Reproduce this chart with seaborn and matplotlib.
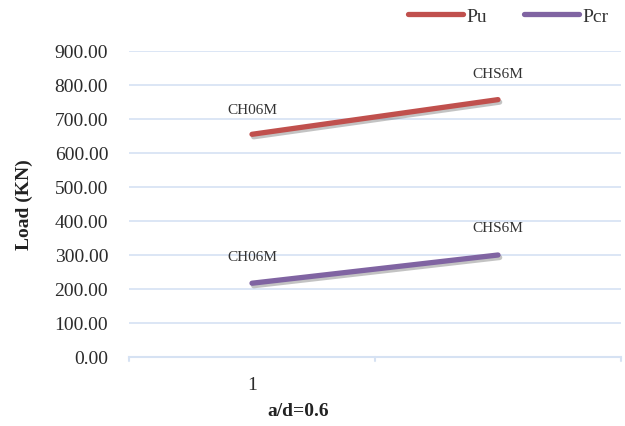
import matplotlib
matplotlib.use("Agg")
import matplotlib.pyplot as plt
import matplotlib.patheffects as pe
from matplotlib.lines import Line2D
import seaborn as sns
import pandas as pd

# Data
categories = ["1", ""]
specimens = ["CH06M", "CHS6M"]
pu_values = [655.0, 757.0]
pcr_values = [217.0, 300.0]
series_names = ["Pu", "Pcr"]
yticks = [0, 100, 200, 300, 400, 500, 600, 700, 800, 900]

sns.set_theme(style="white")
plt.rcParams['font.family'] = ['Liberation Serif', 'DejaVu Serif']

df = pd.DataFrame({
    "pos": [0, 1, 0, 1],
    "load": pu_values + pcr_values,
    "series": [series_names[0]] * 2 + [series_names[1]] * 2,
    "label": specimens + specimens,
})

colors = {"Pu": "#C0504D", "Pcr": "#8064A2"}
grid_c = "#D6E2F3"

fig = plt.figure(figsize=(6.25, 4.27), dpi=100)
ax = fig.add_axes([129 / 625, 1 - 358 / 427, (621 - 129) / 625, (358 - 52) / 427])

sns.lineplot(data=df, x="pos", y="load", hue="series", palette=colors,
             linewidth=3.8, ax=ax, legend=False, sort=False)
for line in ax.lines:
    line.set_solid_capstyle("round")
    line.set_path_effects([pe.SimpleLineShadow(offset=(1.2, -1.8), alpha=0.35, shadow_color="#555555"),
                           pe.Normal()])

ax.set_xlim(-0.5, 1.5)
ax.set_ylim(0, 900)
ax.set_yticks(yticks)
ax.set_yticklabels([f"{v:.2f}" for v in yticks], fontsize=14, color="#2b2b2b")
ax.set_xticks([0, 1])
ax.set_xticklabels(categories, fontsize=14, color="#2b2b2b")
ax.tick_params(axis="x", length=0, pad=14)
ax.tick_params(axis="y", length=0, pad=15)

# grid
for y in yticks[1:]:
    ax.axhline(y, color=grid_c, lw=1.2, zorder=0)
for s in ["top", "right", "left"]:
    ax.spines[s].set_visible(False)
ax.spines["bottom"].set_color(grid_c)
ax.spines["bottom"].set_linewidth(1.5)
# category divider ticks
for xv in [-0.5, 0.5, 1.5]:
    ax.plot([xv, xv], [0, -12], color=grid_c, lw=1.5, clip_on=False)

# annotations
offsets = {"Pu": [(0, 18), (0, 19)], "Pcr": [(0, 19), (0, 20)]}
for s, vals in [("Pu", pu_values), ("Pcr", pcr_values)]:
    for i, (v, lab) in enumerate(zip(vals, specimens)):
        ax.annotate(lab, (i, v), xytext=offsets[s][i], textcoords="offset points",
                    ha="center", va="center", fontsize=11, color="#333333")

ax.set_ylabel("Load (KN)", fontsize=14, fontweight="bold", color="#222222")
ax.yaxis.set_label_coords(-(129 - 33) / 492, 0.5)
ax.set_xlabel("a/d=0.6", fontsize=14, fontweight="bold", color="#222222")
ax.xaxis.set_label_coords((298 - 129) / 492, -(403 - 358) / 306)

# legend
handles = [Line2D([0], [0], color=colors[n], lw=3.8, solid_capstyle="round") for n in series_names]
fig.legend(handles, series_names, loc="center", bbox_to_anchor=(508 / 625, 1 - 17 / 427),
           ncol=2, frameon=False, fontsize=14, handlelength=2.85, handletextpad=0.15,
           columnspacing=1.9, labelcolor="#333333")

fig.savefig("out.png", dpi=100)
